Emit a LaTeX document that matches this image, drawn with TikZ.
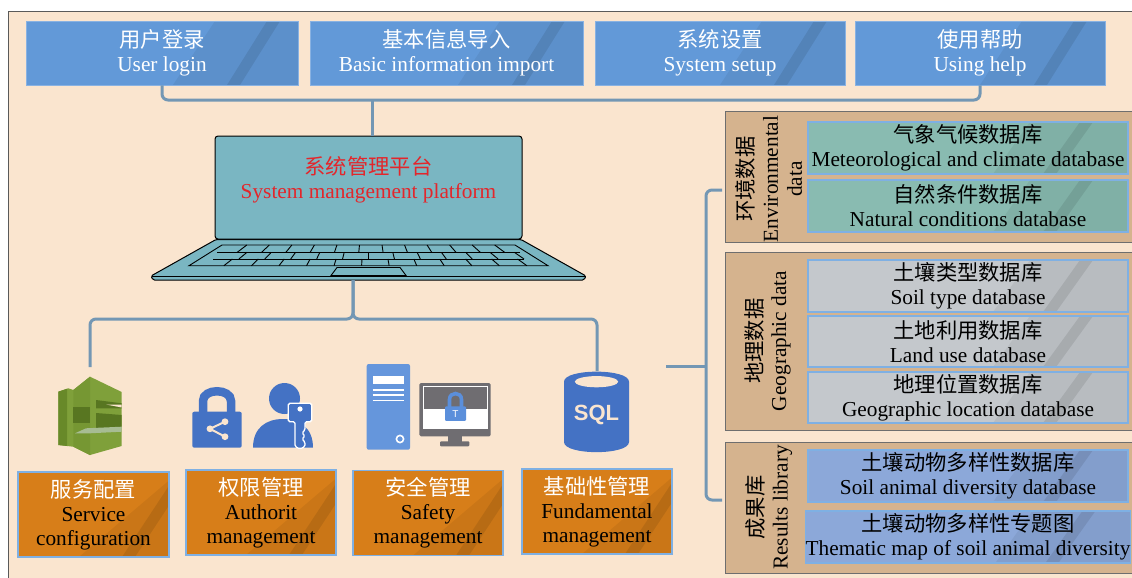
\documentclass[tikz,border=0pt]{standalone}
\usepackage{fontspec}
\setmainfont{Liberation Serif}
\newfontfamily\cjk{Noto Sans CJK SC}
\newfontfamily\sqlfont{Liberation Sans}
\newcommand{\zh}[1]{{\cjk #1}}

\definecolor{bgc}{HTML}{FAE5CF}
\definecolor{framec}{HTML}{5A5A5A}
\definecolor{topblue}{HTML}{6299D8}
\definecolor{connc}{HTML}{7397B4}
\definecolor{lapc}{HTML}{7AB6C2}
\definecolor{lapred}{HTML}{E3262B}
\definecolor{orangec}{HTML}{D77E19}
\definecolor{edgeblue}{HTML}{7FB0E3}
\definecolor{tanc}{HTML}{D5B38E}
\definecolor{paneledge}{HTML}{6E6E6E}
\definecolor{tealc}{HTML}{89BBB1}
\definecolor{grayc}{HTML}{C4C8CC}
\definecolor{bluec}{HTML}{8CA8D9}
\definecolor{iconblue}{HTML}{4472C4}
\definecolor{serverblue}{HTML}{6596DC}
\definecolor{lockblue}{HTML}{5B8FDB}
\definecolor{monigray}{HTML}{6F6D71}
\definecolor{greenA}{HTML}{7FA03A}
\definecolor{greenB}{HTML}{769733}
\definecolor{greenC}{HTML}{688929}
\definecolor{greenD}{HTML}{587621}
\definecolor{greenL}{HTML}{A7BC93}

\tikzset{
  txt/.style={font=\fontsize{21.3}{24}\selectfont, align=center, inner sep=0pt},
  gloss/.style n args={4}{path picture={
    \fill[black,opacity=0.06] ([xshift=#1]path picture bounding box.north east)
      -- (path picture bounding box.north east) -- (path picture bounding box.south east)
      -- ([xshift=#2]path picture bounding box.south east) -- cycle;
    \fill[black,opacity=0.09] ([xshift=#3]path picture bounding box.north east)
      -- ([xshift=#3+13]path picture bounding box.north east)
      -- ([xshift=#4+13]path picture bounding box.south east)
      -- ([xshift=#4]path picture bounding box.south east) -- cycle;
  }},
  topbox/.style={txt, fill=topblue, draw=topblue!75!white, line width=0.8,
    minimum height=64, text=white, gloss={-83}{-125}{-31}{-71}},
  orangebox/.style={txt, fill=orangec, draw=edgeblue, line width=1.2,
    minimum width=151, minimum height=85, gloss={10}{-90}{9}{-47}},
  panel/.style={fill=tanc, draw=paneledge, line width=1, minimum width=420},
  dbbox/.style={txt, draw=edgeblue, line width=1.2, minimum width=320,
    minimum height=52, gloss={-98}{-135}{-48}{-85}},
  conn/.style={draw=connc, line width=3, rounded corners=6},
  keyline/.style={draw=black, line width=0.9},
}

\begin{document}
\begin{tikzpicture}[x=1pt,y=-1pt]
\useasboundingbox (0,0) rectangle (1132,578);
\clip (0,0) rectangle (1132,578);
\fill[white] (0,0) rectangle (1132,578);
% outer frame
\draw[draw=framec, fill=bgc, line width=1] (8,11.5) rectangle (1160,600);

% ---------- top menu ----------
\node[topbox, minimum width=272] (t1) at (162,53) {\zh{用户登录}\\User login};
\node[topbox, minimum width=273] (t2) at (446.5,53) {\zh{基本信息导入}\\Basic information import};
\node[topbox, minimum width=250] (t3) at (720,53) {\zh{系统设置}\\System setup};
\node[topbox, minimum width=250] (t4) at (980,53) {\zh{使用帮助}\\Using help};

% ---------- laptop ----------
\filldraw[fill=lapc, draw=black, line width=1, rounded corners=1.5]
  (216,239.5) -- (521,239.5) -- (586,276) -- (584,280) -- (153,280) -- (151,276) -- cycle;
\draw[black, line width=0.6] (151.5,276.5) -- (585.5,276.5);
\node[draw=black, fill=lapc, line width=1, rounded corners=3,
  minimum width=307, minimum height=103, inner sep=0pt] (screen) at (368.5,187.5) {};
\node[txt, text=lapred] (lapText) at (368.5,180) {\zh{系统管理平台}\\System management platform};
% keyboard
\draw[keyline] (222,245) -- (515,245) -- (548,265.7) -- (189,265.7) -- cycle;
\draw[keyline] (217.4,252.3) -- (519.6,252.3);
\draw[keyline] (213.1,259) -- (523.9,259);
\foreach \ya/\yb/\off in {245/252.3/0.1, 252.3/259/0.5, 259/265.7/0.25} {
  \foreach \i in {1,...,12} {
    \pgfmathsetmacro\fa{(\i+\off)/13}
    \pgfmathsetmacro\xa{222-(\ya-245)*1.5714+\fa*(293+2*(\ya-245)*1.5714)}
    \pgfmathsetmacro\xb{222-(\yb-245)*1.5714+\fa*(293+2*(\yb-245)*1.5714)}
    \draw[keyline] (\xa,\ya) -- (\xb,\yb);
  }
}
% trackpad
\draw[keyline, fill=lapc] (337,267.5) -- (400,267.5) -- (406,275.5) -- (331,275.5) -- cycle;

% ---------- connectors, upper part ----------
\coordinate (hub) at (372,100);
\draw[conn] (t1.south) -- (t1.south |- hub) -- (t4.south |- hub) -- (t4.south);
\draw[conn] (hub) -- (hub |- screen.north);

% ---------- service icon ----------
\node[minimum width=64, minimum height=78, inner sep=0pt] (svcIcon) at (90,416) {};
\fill[greenA] (58.3,391.7) -- (68.3,388.3) -- (73.3,390) -- (90,376.7) -- (121.7,392)
  -- (121.7,446) -- (90,455) -- (73.3,446.7) -- (58.3,445) -- cycle;
\fill[greenC] (58.3,391.7) -- (67,388.8) -- (67,446) -- (58.3,445) -- cycle;
\fill[greenB] (73.3,390) -- (90,376.7) -- (90,455) -- (73.3,446.7) -- cycle;
\fill[greenD] (73.3,407) rectangle (90,423);
\fill[greenD] (96,400) -- (121.7,403.3) -- (121.7,408.3) -- (96,408.3) -- cycle;
\fill[greenD] (96,413) -- (121.7,415) -- (121.7,426.7) -- (96,430) -- cycle;
\fill[bgc] (106,404.5) -- (121.7,404.5) -- (121.7,407.5) -- cycle;
\fill[greenL] (75,433.3) -- (86,428.3) -- (121.7,426.7) -- (121.7,431.7) -- (90,433.3) -- cycle;

% ---------- authority icons ----------
\node[minimum width=124, minimum height=62, inner sep=0pt] (authIcon) at (253,416) {};
\draw[iconblue, line width=8.5] (203,413) -- (203,401) .. controls (203,388) and (231,388) .. (231,401) -- (231,413);
\fill[iconblue, rounded corners=2] (192.3,411.7) rectangle (241.7,447.7);
\draw[bgc, line width=2] (225,421.7) -- (210,428.8) -- (225,436.7);
\fill[bgc] (225,421.7) circle[radius=3.4] (210,428.8) circle[radius=3.4] (225,436.7) circle[radius=3.4];
\fill[iconblue] (284.5,398.5) circle[radius=15.5];
\fill[iconblue] (253,447.7) .. controls (253,428) and (266,419) .. (283,419)
  .. controls (300,419) and (313,428) .. (313,447.7) -- cycle;
\filldraw[fill=iconblue, draw=white, line width=1.3, rounded corners=1.5]
  (288.3,403.3) -- (311.7,403.3) -- (311.7,421.7) -- (305,421.7) -- (305,430) -- (302,433)
  -- (305,436) -- (302,439) -- (305,442) -- (305,446.5) -- (300,449) -- (295,446.5)
  -- (295,421.7) -- (288.3,421.7) -- cycle;
\fill[white] (300,409) circle[radius=2.6];

% ---------- safety icons ----------
\node[minimum width=124, minimum height=86, inner sep=0pt] (safeIcon) at (429,407) {};
\fill[serverblue, rounded corners=2] (366.7,364) rectangle (410,449.7);
\fill[white] (372.7,375.7) rectangle (404.3,384);
\draw[white, line width=1.6] (372.7,389.7) -- (404.3,389.7) (372.7,394.9) -- (404.3,394.9) (372.7,400.3) -- (404.3,400.3);
\draw[white, line width=1.6] (400,439) circle[radius=3.6];
\fill[monigray, rounded corners=1.5] (419.3,383) rectangle (490.7,436.3);
\fill[white] (422.7,386.3) rectangle (487.7,428.7);
\fill[monigray] (423.5,387.1) rectangle (486.9,408.7);
\fill[monigray] (448,436) rectangle (461.7,442);
\fill[monigray, rounded corners=1] (440,441.3) rectangle (469.3,446.3);
\draw[lockblue, line width=3.6] (449.5,407) -- (449.5,399.5) .. controls (449.5,391.5) and (461.5,391.5) .. (461.5,399.5) -- (461.5,407);
\fill[lockblue, rounded corners=1] (445,406.3) rectangle (466,420.8);
\node[text=white, font=\sqlfont\fontsize{10}{10}\selectfont, inner sep=0pt] (tMark) at (455.5,414) {T};

% ---------- SQL icon ----------
\node[minimum width=65, minimum height=82, inner sep=0pt] (sqlIcon) at (596.5,412) {};
\fill[iconblue] (564,381.7) -- (564,442) .. controls (564,455.5) and (629,455.5) .. (629,442)
  -- (629,381.7) .. controls (629,368.3) and (564,368.3) .. (564,381.7) -- cycle;
\fill[bgc] (596.5,381.7) circle[x radius=21.7, y radius=5.6];
\node[text=bgc, font=\sqlfont\bfseries\fontsize{22}{22}\selectfont, inner sep=0pt] (sqlText) at (596.5,415) {SQL};

% ---------- connectors, lower part ----------
\coordinate (lapBase) at (353,280);
\coordinate (split) at (353,319);
\coordinate (svcTop) at (90,367);
\coordinate (sqlTop) at (597,371);
\draw[conn] (lapBase) -- (split) -- (split -| svcTop) -- (svcTop);
\draw[conn] (lapBase) -- (split) -- (split -| sqlTop) -- (sqlTop);

% ---------- management boxes ----------
\node[orangebox] (b1) at (93.5,514.5) {\zh{\textcolor{white}{服务配置}}\\Service\\configuration};
\node[orangebox, minimum width=150] (b2) at (261,512.5) {\zh{\textcolor{white}{权限管理}}\\Authorit\\management};
\node[orangebox, minimum width=150] (b3) at (428,513) {\zh{\textcolor{white}{安全管理}}\\Safety\\management};
\node[orangebox, minimum width=150] (b4) at (597,511.5) {\zh{\textcolor{white}{基础性管理}}\\Fundamental\\management};

% ---------- data panels ----------
\node[panel, minimum height=131] (g1) at (935,176.5) {};
\node[panel, minimum height=178] (g2) at (935,341) {};
\node[panel, minimum height=131] (g3) at (935,507.5) {};

\node[txt, rotate=90] (g1lab) at (769,179) {\zh{环境数据}\\Environmental\\data};
\node[txt, rotate=90] (g2lab) at (767.5,341) {\zh{地理数据}\\Geographic data};
\node[txt, rotate=90] (g3lab) at (769,507.5) {\zh{成果库}\\Results library};

\node[dbbox, fill=tealc] (d1) at (968,148) {\zh{气象气候数据库}\\Meteorological and climate database};
\node[dbbox, fill=tealc] (d2) at (968,206) {\zh{自然条件数据库}\\Natural conditions database};
\node[dbbox, fill=grayc] (d3) at (968,286) {\zh{土壤类型数据库}\\Soil type database};
\node[dbbox, fill=grayc, minimum height=51] (d4) at (968,341.5) {\zh{土地利用数据库}\\Land use database};
\node[dbbox, fill=grayc, minimum height=51] (d5) at (968,397.5) {\zh{地理位置数据库}\\Geographic location database};
\node[dbbox, fill=bluec] (d6) at (968,476) {\zh{土壤动物多样性数据库}\\Soil animal diversity database};
\node[dbbox, fill=bluec] (d7) at (968,537) {\zh{土壤动物多样性专题图}\\Thematic map of soil animal diversity};

% ---------- bracket to the data panels ----------
\coordinate (feedL) at (666,366);
\coordinate (feedR) at (705,366);
\coordinate (brTop) at (722,190);
\coordinate (brBot) at (722,500);
\draw[conn] (feedL) -- (feedR);
\draw[conn] (brTop) -- (706,190) -- (706,500) -- (brBot);
\end{tikzpicture}
\end{document}
